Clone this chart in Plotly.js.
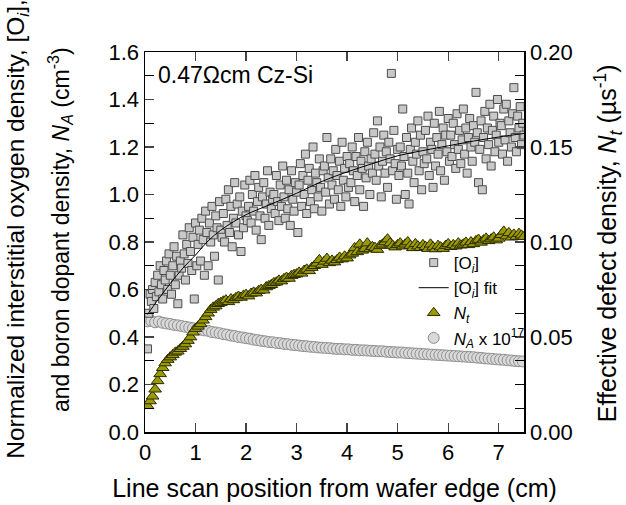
<!DOCTYPE html>
<html>
<head>
<meta charset="utf-8">
<script src="https://cdn.plot.ly/plotly-3.0.1.min.js"></script>
<style>html,body{margin:0;padding:0;background:#fff;}#chart{width:626px;height:505px;}</style>
</head>
<body>
<div id="chart"></div>
<script>
// [Oi] normalized interstitial oxygen density (left axis), x from 0.05 step 0.025 cm
const oiValues = [
0.35,0.50,0.58,0.55,0.60,0.52,0.63,0.57,0.66,0.59,0.70,0.62,0.56,0.68,0.64,0.72,0.60,0.75,0.66,0.58,
0.70,0.78,0.62,0.74,0.54,0.66,0.72,0.69,0.83,0.75,0.64,0.79,0.71,0.86,0.76,0.68,0.82,0.56,0.88,0.70,
0.79,0.85,0.72,0.90,0.81,0.66,0.93,0.84,0.70,0.88,0.80,0.95,0.83,0.74,0.91,0.86,0.64,0.97,0.85,0.82,
0.92,0.80,0.98,0.87,1.02,0.84,0.95,0.78,0.90,1.05,0.88,0.96,0.83,0.99,0.76,0.93,0.86,1.04,0.91,0.89,
0.95,1.06,0.88,1.00,0.93,1.08,0.85,0.97,1.03,0.91,0.81,0.99,1.05,0.90,0.96,1.10,0.87,1.01,0.94,0.98,
1.00,0.92,1.08,0.97,0.89,1.04,0.95,1.12,0.99,0.90,1.06,0.94,1.02,0.87,1.10,0.98,0.93,1.05,1.01,0.84,
1.04,1.13,0.95,1.08,1.00,1.17,0.92,1.06,1.11,0.97,1.02,1.20,0.94,1.09,1.05,0.99,1.15,1.03,0.93,1.10,
1.12,1.01,1.24,1.07,0.96,1.15,1.04,1.10,0.98,1.19,1.08,1.02,1.14,0.95,1.22,1.06,1.11,0.99,1.16,1.03,
1.13,1.05,1.20,1.10,0.97,1.16,1.08,1.24,1.02,1.14,1.11,0.95,1.18,1.07,1.22,1.12,1.00,1.15,1.09,1.26,
1.17,1.06,1.31,1.12,1.20,0.99,1.14,1.25,1.09,1.18,1.03,1.22,1.15,1.51,1.10,1.27,1.13,0.98,1.19,1.08,
1.20,1.12,1.36,1.16,1.00,1.24,1.09,0.96,1.19,1.28,1.14,1.05,1.22,1.17,1.31,1.10,1.25,1.02,1.18,1.13,
1.27,1.15,1.33,1.08,1.22,1.19,1.03,1.30,1.12,1.24,1.17,1.35,1.10,1.21,1.28,1.06,1.25,1.18,1.32,1.14,
1.25,1.16,1.30,1.21,1.11,1.34,1.19,1.27,1.13,1.23,1.36,1.17,1.28,1.09,1.24,1.32,1.20,1.14,1.29,1.22,
1.43,1.26,1.05,1.19,1.31,1.02,1.24,1.35,1.15,1.28,1.21,1.38,1.12,1.27,1.33,1.18,1.25,1.40,1.22,1.30,
1.29,1.17,1.36,1.23,1.38,1.14,1.31,1.26,1.20,1.34,1.45,1.24,1.18,1.33,1.28,1.37,1.21,1.30,1.25
];
// [Oi] fit curve, read at these positions
const fitX = [0.05,0.25,0.5,0.75,1.0,1.25,1.5,1.75,2.0,2.5,3.0,3.5,4.0,4.5,5.0,5.5,6.0,6.5,7.0,7.5];
const fitY = [0.495,0.555,0.625,0.69,0.745,0.805,0.85,0.885,0.915,0.96,1.005,1.055,1.095,1.13,1.163,1.185,1.205,1.225,1.242,1.257];
// Nt effective defect density (right axis, us^-1), x from 0.05 step 0.05 cm
const ntValues = [
0.0138,0.0163,0.0188,0.0225,0.0269,0.0306,0.0338,0.0363,0.0381,0.0394,
0.0406,0.0419,0.0425,0.0438,0.0450,0.0463,0.0481,0.0500,0.0525,0.0544,
0.0556,0.0569,0.0588,0.0606,0.0625,0.0644,0.0656,0.0663,0.0675,0.0681,
0.0688,0.0694,0.0685,0.0700,0.0695,0.0706,0.0713,0.0708,0.0719,0.0723,
0.0715,0.0729,0.0735,0.0731,0.0744,0.0750,0.0746,0.0763,0.0769,0.0775,
0.0785,0.0788,0.0798,0.0794,0.0806,0.0813,0.0808,0.0823,0.0828,0.0831,
0.0840,0.0835,0.0850,0.0856,0.0848,0.0865,0.0875,0.0888,0.0906,0.0881,
0.0898,0.0913,0.0890,0.0903,0.0894,0.0906,0.0919,0.0910,0.0925,0.0915,
0.0931,0.0940,0.0969,0.0948,0.0988,0.0956,0.0965,0.0994,0.0963,0.0975,
0.0970,0.0960,0.0981,0.0988,0.1000,0.1015,0.0994,0.0981,0.0973,0.0985,
0.0994,0.0978,0.0988,0.1000,0.0981,0.0969,0.0990,0.0978,0.0970,0.0985,
0.0975,0.0965,0.0988,0.0973,0.0963,0.0981,0.0973,0.0965,0.0981,0.0990,
0.0975,0.0985,0.0978,0.0994,0.0983,0.0988,0.0998,0.0985,0.1000,0.0990,
0.1006,0.1013,0.0998,0.1010,0.1019,0.1006,0.1015,0.1025,0.1010,0.1019,
0.1038,0.1056,0.1031,0.1048,0.1025,0.1040,0.1028,0.1044,0.1035,0.1028
];
// NA boron dopant density (x 1e17 cm^-3, left axis), x from 0.05 step 0.075 cm
const naValues = [
0.466,0.468,0.462,0.465,0.460,0.457,0.455,0.451,0.449,0.446,
0.443,0.440,0.437,0.434,0.431,0.428,0.426,0.421,0.419,0.416,
0.412,0.410,0.406,0.404,0.400,0.398,0.395,0.393,0.389,0.387,
0.384,0.382,0.379,0.378,0.375,0.374,0.371,0.370,0.367,0.366,
0.364,0.362,0.361,0.359,0.358,0.356,0.355,0.354,0.353,0.351,
0.350,0.350,0.348,0.348,0.346,0.346,0.344,0.344,0.343,0.342,
0.341,0.340,0.340,0.338,0.337,0.336,0.335,0.335,0.333,0.332,
0.331,0.330,0.329,0.328,0.327,0.326,0.325,0.324,0.323,0.322,
0.321,0.320,0.319,0.318,0.317,0.316,0.315,0.313,0.312,0.310,
0.309,0.308,0.306,0.305,0.304,0.302,0.301,0.299,0.298,0.297
];

const FONT = 'Liberation Sans, Arial, Helvetica, sans-serif';

const traces = [
  {type:'scatter', mode:'markers', name:'<i>N<sub>A</sub></i> x 10<sup>17</sup>', legendrank:4,
   x0:0.05, dx:0.075, y:naValues, yaxis:'y',
   marker:{symbol:'circle', size:11, color:'#d9d9d9', line:{color:'#8e8e8e', width:1}}},
  {type:'scatter', mode:'markers', name:'[O<sub><i>i</i></sub>]', legendrank:1,
   x0:0.05, dx:0.025, y:oiValues, yaxis:'y',
   marker:{symbol:'square', size:8, color:'#c8c8c8', line:{color:'#4d4d4d', width:1}}},
  {type:'scatter', mode:'lines', name:'[O<sub><i>i</i></sub>] fit', legendrank:2,
   x:fitX, y:fitY, yaxis:'y', line:{color:'#000000', width:1, shape:'spline'}},
  {type:'scatter', mode:'markers', name:'<i>N<sub>t</sub></i>', legendrank:3,
   x0:0.05, dx:0.05, y:ntValues, yaxis:'y2',
   marker:{symbol:'triangle-up', size:11, color:'#9a9a00', line:{color:'#2b2b00', width:1}}}
];

const layout = {
  width:626, height:505,
  margin:{l:145, r:102, t:52, b:73},
  paper_bgcolor:'#ffffff', plot_bgcolor:'#ffffff',
  font:{family:FONT, size:22, color:'#000'},
  showlegend:true,
  legend:{x:0.709, y:0.492, xanchor:'left', yanchor:'top', bgcolor:'rgba(0,0,0,0)',
          font:{family:FONT, size:17}, tracegroupgap:0},
  xaxis:{range:[0,7.5], dtick:1, tick0:0, ticks:'inside', ticklen:9, tickwidth:1.3,
         showline:true, linewidth:1.5, linecolor:'#000', mirror:'ticks', zeroline:false, showgrid:false,
         tickfont:{family:FONT, size:22},
         title:{text:'Line scan position from wafer edge (cm)', font:{family:FONT, size:25}, standoff:15}},
  yaxis:{range:[0,1.6], dtick:0.2, tick0:0, tickformat:'.1f', ticks:'inside', ticklen:9, tickwidth:1.3,
         minor:{dtick:0.1, ticks:'inside', ticklen:9, tickwidth:1.3, tickcolor:'#000', showgrid:false},
         showline:true, linewidth:1.5, linecolor:'#000', mirror:true, zeroline:false, showgrid:false,
         tickfont:{family:FONT, size:22}},
  yaxis2:{range:[0,0.2], dtick:0.05, tick0:0, tickformat:'.2f', overlaying:'y', side:'right',
          ticks:'inside', ticklen:9, tickwidth:1.3,
          minor:{dtick:0.0125, ticks:'inside', ticklen:9, tickwidth:1.3, tickcolor:'#000', showgrid:false},
          showline:true, linewidth:1.5, linecolor:'#000', zeroline:false, showgrid:false,
          tickfont:{family:FONT, size:22}},
  annotations:[
    {xref:'paper', yref:'paper', x:0.03, y:0.94, xanchor:'left', yanchor:'middle', showarrow:false,
     text:'0.47\u03a9cm Cz-Si', font:{family:FONT, size:23, color:'#000'}},
    {xref:'paper', yref:'paper', x:-0.335, y:0.535, xanchor:'center', yanchor:'middle', showarrow:false,
     textangle:-90, text:'Normalized interstitial oxygen density, [O<sub><i>i</i></sub>],',
     font:{family:FONT, size:24.5, color:'#000'}},
    {xref:'paper', yref:'paper', x:-0.2243, y:0.534, xanchor:'center', yanchor:'middle', showarrow:false,
     textangle:-90, text:'and boron dopant density, <i>N<sub>A</sub></i> (cm<sup>-3</sup>)',
     font:{family:FONT, size:23, color:'#000'}},
    {xref:'paper', yref:'paper', x:1.2216, y:0.497, xanchor:'center', yanchor:'middle', showarrow:false,
     textangle:-90, text:'Effective defect density, <i>N<sub>t</sub></i> (\u00b5s<sup>-1</sup>)',
     font:{family:FONT, size:25, color:'#000'}}
  ]
};

Plotly.newPlot('chart', traces, layout, {displayModeBar:false, staticPlot:true});
</script>
</body>
</html>
